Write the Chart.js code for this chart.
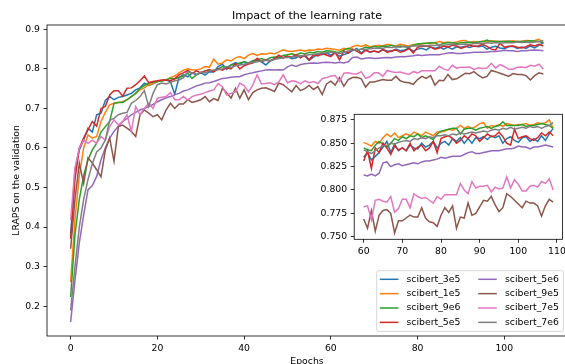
<!DOCTYPE html>
<html>
<head>
<meta charset="utf-8">
<script src="https://cdn.jsdelivr.net/npm/chart.js@4.4.0/dist/chart.umd.min.js"></script>
<style>
  html, body { margin: 0; padding: 0; background: #fff; overflow: hidden; }
  #wrap { position: relative; width: 565px; height: 364px; overflow: hidden; }
  #main { position: absolute; left: 0; top: 0; }
  #inset { position: absolute; left: 315px; top: 105px; }
</style>
</head>
<body>
<div id="wrap">
  <canvas id="main" width="575" height="372"></canvas>
  <canvas id="inset" width="255" height="150"></canvas>
</div>
<script>
// epochs 0..109
const epochs = Array.from({ length: 110 }, (_, i) => i);

const scibert_3e5 = [
  0.380, 0.545, 0.595, 0.620, 0.650, 0.640, 0.684, 0.688, 0.720, 0.730,
  0.722, 0.728, 0.730, 0.734, 0.738, 0.747, 0.752, 0.764, 0.758, 0.762,
  0.768, 0.770, 0.772, 0.768, 0.736, 0.779, 0.785, 0.780, 0.790, 0.786,
  0.790, 0.784, 0.793, 0.792, 0.806, 0.812, 0.799, 0.810, 0.816, 0.812,
  0.818, 0.815, 0.820, 0.822, 0.818, 0.810, 0.820, 0.826, 0.830, 0.828,
  0.832, 0.826, 0.828, 0.834, 0.832, 0.822, 0.830, 0.838, 0.836, 0.840,
  0.835, 0.840, 0.832, 0.836, 0.840, 0.846, 0.852, 0.840, 0.849, 0.842,
  0.845, 0.842, 0.848, 0.845, 0.844, 0.850, 0.846, 0.848, 0.852, 0.845,
  0.850, 0.852, 0.848, 0.855, 0.852, 0.856, 0.850, 0.855, 0.850, 0.856,
  0.855, 0.857, 0.854, 0.858, 0.856, 0.858, 0.850, 0.855, 0.857, 0.853,
  0.851, 0.856, 0.857, 0.852, 0.855, 0.852, 0.858, 0.853, 0.860, 0.866
];
const scibert_1e5 = [
  0.261, 0.420, 0.530, 0.600, 0.633, 0.625, 0.629, 0.667, 0.690, 0.709,
  0.713, 0.715, 0.717, 0.722, 0.730, 0.738, 0.747, 0.752, 0.760, 0.763,
  0.768, 0.770, 0.772, 0.778, 0.782, 0.790, 0.797, 0.800, 0.798, 0.797,
  0.800, 0.806, 0.804, 0.825, 0.812, 0.815, 0.823, 0.820, 0.828, 0.831,
  0.826, 0.835, 0.839, 0.834, 0.838, 0.837, 0.840, 0.838, 0.843, 0.848,
  0.845, 0.844, 0.846, 0.848, 0.845, 0.848, 0.847, 0.850, 0.849, 0.852,
  0.851, 0.849, 0.847, 0.852, 0.850, 0.856, 0.860, 0.857, 0.861, 0.856,
  0.858, 0.860, 0.858, 0.862, 0.860, 0.858, 0.862, 0.860, 0.858, 0.862,
  0.862, 0.863, 0.865, 0.864, 0.866, 0.869, 0.866, 0.868, 0.866, 0.868,
  0.871, 0.872, 0.866, 0.869, 0.868, 0.870, 0.868, 0.871, 0.870, 0.869,
  0.870, 0.870, 0.871, 0.869, 0.870, 0.872, 0.871, 0.872, 0.875, 0.866
];
const scibert_9e6 = [
  0.223, 0.380, 0.470, 0.530, 0.570, 0.595, 0.612, 0.640, 0.654, 0.667,
  0.713, 0.715, 0.715, 0.722, 0.730, 0.738, 0.751, 0.758, 0.764, 0.766,
  0.768, 0.770, 0.772, 0.776, 0.775, 0.778, 0.782, 0.789, 0.776, 0.785,
  0.790, 0.795, 0.798, 0.794, 0.800, 0.806, 0.803, 0.810, 0.812, 0.815,
  0.818, 0.814, 0.821, 0.823, 0.826, 0.822, 0.828, 0.830, 0.829, 0.834,
  0.836, 0.838, 0.835, 0.840, 0.838, 0.842, 0.841, 0.844, 0.842, 0.846,
  0.845, 0.843, 0.842, 0.848, 0.852, 0.849, 0.846, 0.850, 0.855, 0.853,
  0.857, 0.855, 0.858, 0.857, 0.860, 0.856, 0.858, 0.856, 0.854, 0.860,
  0.863, 0.864, 0.865, 0.866, 0.866, 0.860, 0.865, 0.866, 0.866, 0.864,
  0.866, 0.867, 0.868, 0.866, 0.868, 0.869, 0.873, 0.869, 0.869, 0.869,
  0.869, 0.870, 0.868, 0.869, 0.869, 0.870, 0.871, 0.870, 0.869, 0.866
];
const scibert_5e5 = [
  0.370, 0.520, 0.600, 0.625, 0.646, 0.667, 0.655, 0.700, 0.705, 0.734,
  0.745, 0.745, 0.731, 0.751, 0.752, 0.760, 0.770, 0.782, 0.765, 0.768,
  0.770, 0.772, 0.772, 0.770, 0.775, 0.785, 0.790, 0.796, 0.788, 0.795,
  0.790, 0.795, 0.798, 0.793, 0.800, 0.797, 0.803, 0.800, 0.814, 0.800,
  0.808, 0.812, 0.815, 0.827, 0.818, 0.823, 0.820, 0.826, 0.835, 0.828,
  0.832, 0.830, 0.836, 0.828, 0.835, 0.823, 0.836, 0.833, 0.838, 0.835,
  0.831, 0.842, 0.823, 0.845, 0.840, 0.850, 0.845, 0.838, 0.847, 0.843,
  0.845, 0.842, 0.850, 0.842, 0.846, 0.848, 0.842, 0.845, 0.852, 0.840,
  0.855, 0.857, 0.858, 0.855, 0.850, 0.853, 0.858, 0.855, 0.860, 0.858,
  0.852, 0.856, 0.860, 0.857, 0.858, 0.862, 0.857, 0.850, 0.848, 0.865,
  0.855, 0.857, 0.858, 0.855, 0.853, 0.856, 0.861, 0.858, 0.862, 0.858
];
const scibert_5e6 = [
  0.160, 0.265, 0.360, 0.430, 0.494, 0.505, 0.528, 0.570, 0.600, 0.625,
  0.642, 0.655, 0.667, 0.675, 0.684, 0.690, 0.696, 0.700, 0.705, 0.710,
  0.717, 0.722, 0.727, 0.730, 0.735, 0.738, 0.744, 0.747, 0.752, 0.757,
  0.760, 0.764, 0.765, 0.768, 0.772, 0.776, 0.777, 0.779, 0.780, 0.780,
  0.785, 0.788, 0.790, 0.793, 0.795, 0.797, 0.798, 0.797, 0.798, 0.797,
  0.805, 0.810, 0.806, 0.811, 0.813, 0.814, 0.815, 0.814, 0.816, 0.817,
  0.816, 0.815, 0.817, 0.815, 0.818, 0.829, 0.830, 0.825, 0.827, 0.828,
  0.826, 0.827, 0.828, 0.829, 0.828, 0.830, 0.831, 0.831, 0.832, 0.833,
  0.835, 0.834, 0.835, 0.836, 0.836, 0.836, 0.838, 0.840, 0.841, 0.839,
  0.839, 0.840, 0.841, 0.842, 0.842, 0.842, 0.843, 0.844, 0.844, 0.845,
  0.847, 0.846, 0.846, 0.844, 0.846, 0.846, 0.847, 0.848, 0.847, 0.846
];
const scibert_9e5 = [
  0.345, 0.470, 0.562, 0.510, 0.575, 0.562, 0.545, 0.527, 0.595, 0.625,
  0.566, 0.654, 0.658, 0.650, 0.642, 0.629, 0.684, 0.696, 0.688, 0.679,
  0.684, 0.671, 0.696, 0.713, 0.700, 0.711, 0.711, 0.722, 0.715, 0.718,
  0.722, 0.730, 0.717, 0.725, 0.720, 0.751, 0.739, 0.726, 0.751, 0.726,
  0.747, 0.722, 0.740, 0.747, 0.751, 0.752, 0.748, 0.743, 0.764, 0.760,
  0.751, 0.742, 0.758, 0.745, 0.750, 0.758, 0.748, 0.755, 0.735, 0.762,
  0.769, 0.759, 0.778, 0.756, 0.773, 0.778, 0.779, 0.775, 0.754, 0.767,
  0.767, 0.770, 0.773, 0.771, 0.771, 0.781, 0.770, 0.766, 0.765, 0.761,
  0.773, 0.781, 0.776, 0.783, 0.759, 0.771, 0.770, 0.786, 0.773, 0.775,
  0.782, 0.789, 0.788, 0.793, 0.784, 0.777, 0.781, 0.796, 0.793, 0.789,
  0.785, 0.781, 0.788, 0.786, 0.786, 0.783, 0.772, 0.783, 0.790, 0.787
];
const scibert_7e5 = [
  0.418, 0.550, 0.600, 0.620, 0.612, 0.620, 0.612, 0.629, 0.620, 0.654,
  0.671, 0.658, 0.667, 0.684, 0.642, 0.705, 0.684, 0.700, 0.713, 0.700,
  0.726, 0.728, 0.730, 0.740, 0.722, 0.722, 0.730, 0.721, 0.730, 0.734,
  0.736, 0.740, 0.744, 0.747, 0.763, 0.755, 0.734, 0.738, 0.742, 0.764,
  0.758, 0.742, 0.759, 0.785, 0.762, 0.763, 0.765, 0.760, 0.767, 0.785,
  0.765, 0.770, 0.768, 0.762, 0.770, 0.765, 0.768, 0.763, 0.775, 0.778,
  0.782, 0.783, 0.768, 0.789, 0.790, 0.788, 0.787, 0.793, 0.776, 0.780,
  0.790, 0.790, 0.781, 0.796, 0.793, 0.791, 0.792, 0.789, 0.786, 0.793,
  0.790, 0.795, 0.795, 0.795, 0.795, 0.807, 0.800, 0.796, 0.809, 0.802,
  0.804, 0.804, 0.805, 0.798, 0.803, 0.801, 0.802, 0.814, 0.802, 0.811,
  0.806, 0.799, 0.799, 0.804, 0.805, 0.803, 0.809, 0.807, 0.812, 0.800
];
const scibert_7e6 = [
  0.189, 0.300, 0.400, 0.470, 0.520, 0.560, 0.590, 0.600, 0.620, 0.670,
  0.675, 0.684, 0.688, 0.690, 0.713, 0.720, 0.730, 0.745, 0.705, 0.738,
  0.760, 0.764, 0.762, 0.766, 0.770, 0.772, 0.778, 0.793, 0.790, 0.785,
  0.792, 0.790, 0.795, 0.797, 0.798, 0.800, 0.806, 0.803, 0.808, 0.810,
  0.812, 0.815, 0.816, 0.818, 0.820, 0.822, 0.821, 0.824, 0.826, 0.828,
  0.829, 0.830, 0.832, 0.833, 0.834, 0.836, 0.837, 0.838, 0.840, 0.841,
  0.843, 0.841, 0.839, 0.842, 0.845, 0.847, 0.848, 0.850, 0.849, 0.851,
  0.852, 0.853, 0.852, 0.855, 0.854, 0.856, 0.855, 0.857, 0.856, 0.858,
  0.858, 0.859, 0.858, 0.860, 0.859, 0.861, 0.860, 0.861, 0.862, 0.861,
  0.862, 0.863, 0.862, 0.864, 0.865, 0.864, 0.866, 0.865, 0.867, 0.865,
  0.866, 0.867, 0.866, 0.868, 0.867, 0.868, 0.866, 0.868, 0.869, 0.872
];

const seriesNames = ['scibert_3e5', 'scibert_1e5', 'scibert_9e6', 'scibert_5e5',
                     'scibert_5e6', 'scibert_9e5', 'scibert_7e5', 'scibert_7e6'];
const seriesValues = [scibert_3e5, scibert_1e5, scibert_9e6, scibert_5e5,
                      scibert_5e6, scibert_9e5, scibert_7e5, scibert_7e6];

const mainXTicks = [0, 20, 40, 60, 80, 100];
const mainYTicks = [0.2, 0.3, 0.4, 0.5, 0.6, 0.7, 0.8, 0.9];
const insetFrom = 60;
const insetXTicks = [60, 70, 80, 90, 100, 110];
const insetYTicks = [0.750, 0.775, 0.800, 0.825, 0.850, 0.875];

const colors = ['#1f77b4', '#ff7f0e', '#2ca02c', '#d62728', '#9467bd', '#8c564b', '#e377c2', '#7f7f7f'];
const FONT = '"DejaVu Sans", sans-serif';
const TICK_SIZE = 9.3;

function makeDatasets(fromEpoch) {
  return seriesValues.map((vals, i) => ({
    label: seriesNames[i],
    data: epochs.filter(e => e >= fromEpoch).map(e => ({ x: e, y: vals[e] })),
    borderColor: colors[i],
    borderWidth: 1.5,
    pointRadius: 0,
    tension: 0,
    fill: false,
    order: seriesNames.length - 1 - i   // later series on top, like matplotlib
  }));
}

function makeAxis(min, max, ticks, digits, fitSize, horizontal, title) {
  const axis = {
    type: 'linear',
    min: min,
    max: max,
    afterBuildTicks: s => { s.ticks = ticks.map(v => ({ value: v })); },
    afterFit: s => { if (horizontal) s.height = fitSize; else s.width = fitSize; },
    grid: { display: true, drawOnChartArea: false, drawTicks: true, tickLength: 3.5, color: '#000', lineWidth: 0.8 },
    border: { display: false },
    ticks: {
      color: '#000', padding: 3.5, autoSkip: false, maxRotation: 0,
      font: { family: FONT, size: TICK_SIZE },
      callback: v => v.toFixed(digits)
    }
  };
  if (title) axis.title = title;
  return axis;
}

// spines on all four sides
const frame = {
  id: 'frame',
  beforeDraw(chart, args, opts) {
    if (!opts.white) return;
    const a = chart.chartArea, ctx = chart.ctx;
    ctx.save();
    ctx.fillStyle = '#fff';
    ctx.fillRect(a.left, a.top, a.right - a.left, a.bottom - a.top);
    ctx.restore();
  },
  afterDatasetsDraw(chart) {
    const a = chart.chartArea, ctx = chart.ctx;
    ctx.save();
    ctx.strokeStyle = '#000';
    ctx.lineWidth = 0.8;
    ctx.strokeRect(a.left, a.top, a.right - a.left, a.bottom - a.top);
    ctx.restore();
  }
};

// title + two-column legend like the matplotlib one
const decor = {
  id: 'decor',
  afterDraw(chart) {
    const ctx = chart.ctx;
    ctx.save();
    ctx.fillStyle = '#000';
    ctx.font = '11.16px ' + FONT;
    ctx.textAlign = 'center';
    ctx.textBaseline = 'alphabetic';
    ctx.fillText('Impact of the learning rate', (chart.chartArea.left + chart.chartArea.right) / 2, 18.5);

    ctx.beginPath();
    ctx.roundRect(376.7, 270.7, 186.7, 60.7, 2);
    ctx.fillStyle = 'rgba(255,255,255,0.8)';
    ctx.fill();
    ctx.strokeStyle = '#cccccc';
    ctx.lineWidth = 0.8;
    ctx.stroke();

    ctx.font = TICK_SIZE + 'px ' + FONT;
    ctx.textAlign = 'left';
    ctx.textBaseline = 'middle';
    const handleX = [379.8, 478.2];
    const textX = [406.5, 505];
    seriesNames.forEach((name, i) => {
      const col = Math.floor(i / 4), row = i % 4;
      const y = 279.3 + row * 14.35;
      ctx.beginPath();
      ctx.moveTo(handleX[col], y);
      ctx.lineTo(handleX[col] + 18.6, y);
      ctx.strokeStyle = colors[i];
      ctx.lineWidth = 1.5;
      ctx.stroke();
      ctx.fillStyle = '#000';
      ctx.fillText(name, textX[col], y);
    });
    ctx.restore();
  }
};

const mainChart = new Chart(document.getElementById('main').getContext('2d'), {
  type: 'line',
  data: { datasets: makeDatasets(0) },
  options: {
    responsive: false,
    animation: false,
    devicePixelRatio: 1,
    layout: { padding: { left: 0, top: 25, right: 8, bottom: 0 } },
    plugins: { legend: { display: false }, tooltip: { enabled: false }, frame: { white: false } },
    scales: {
      x: makeAxis(-5.45, 114.45, mainXTicks, 0, 36, true, {
        display: true, text: 'Epochs', color: '#000',
        font: { family: FONT, size: TICK_SIZE }, padding: { top: 0, bottom: 5 }
      }),
      y: makeAxis(0.1245, 0.911, mainYTicks, 1, 47, false, {
        display: true, text: 'LRAPS on the validation', color: '#000',
        font: { family: FONT, size: TICK_SIZE }, padding: { top: 11, bottom: 0 }
      })
    }
  },
  plugins: [frame, decor]
});

const insetChart = new Chart(document.getElementById('inset').getContext('2d'), {
  type: 'line',
  data: { datasets: makeDatasets(insetFrom) },
  options: {
    responsive: false,
    animation: false,
    devicePixelRatio: 1,
    layout: { padding: { left: 0, top: 9.3, right: 7.4, bottom: 0 } },
    plugins: { legend: { display: false }, tooltip: { enabled: false }, frame: { white: true } },
    scales: {
      x: makeAxis(57.55, 111.45, insetXTicks, 0, 15.7, true),
      y: makeAxis(0.7472, 0.881, insetYTicks, 3, 39.2, false)
    }
  },
  plugins: [frame]
});
</script>
</body>
</html>
